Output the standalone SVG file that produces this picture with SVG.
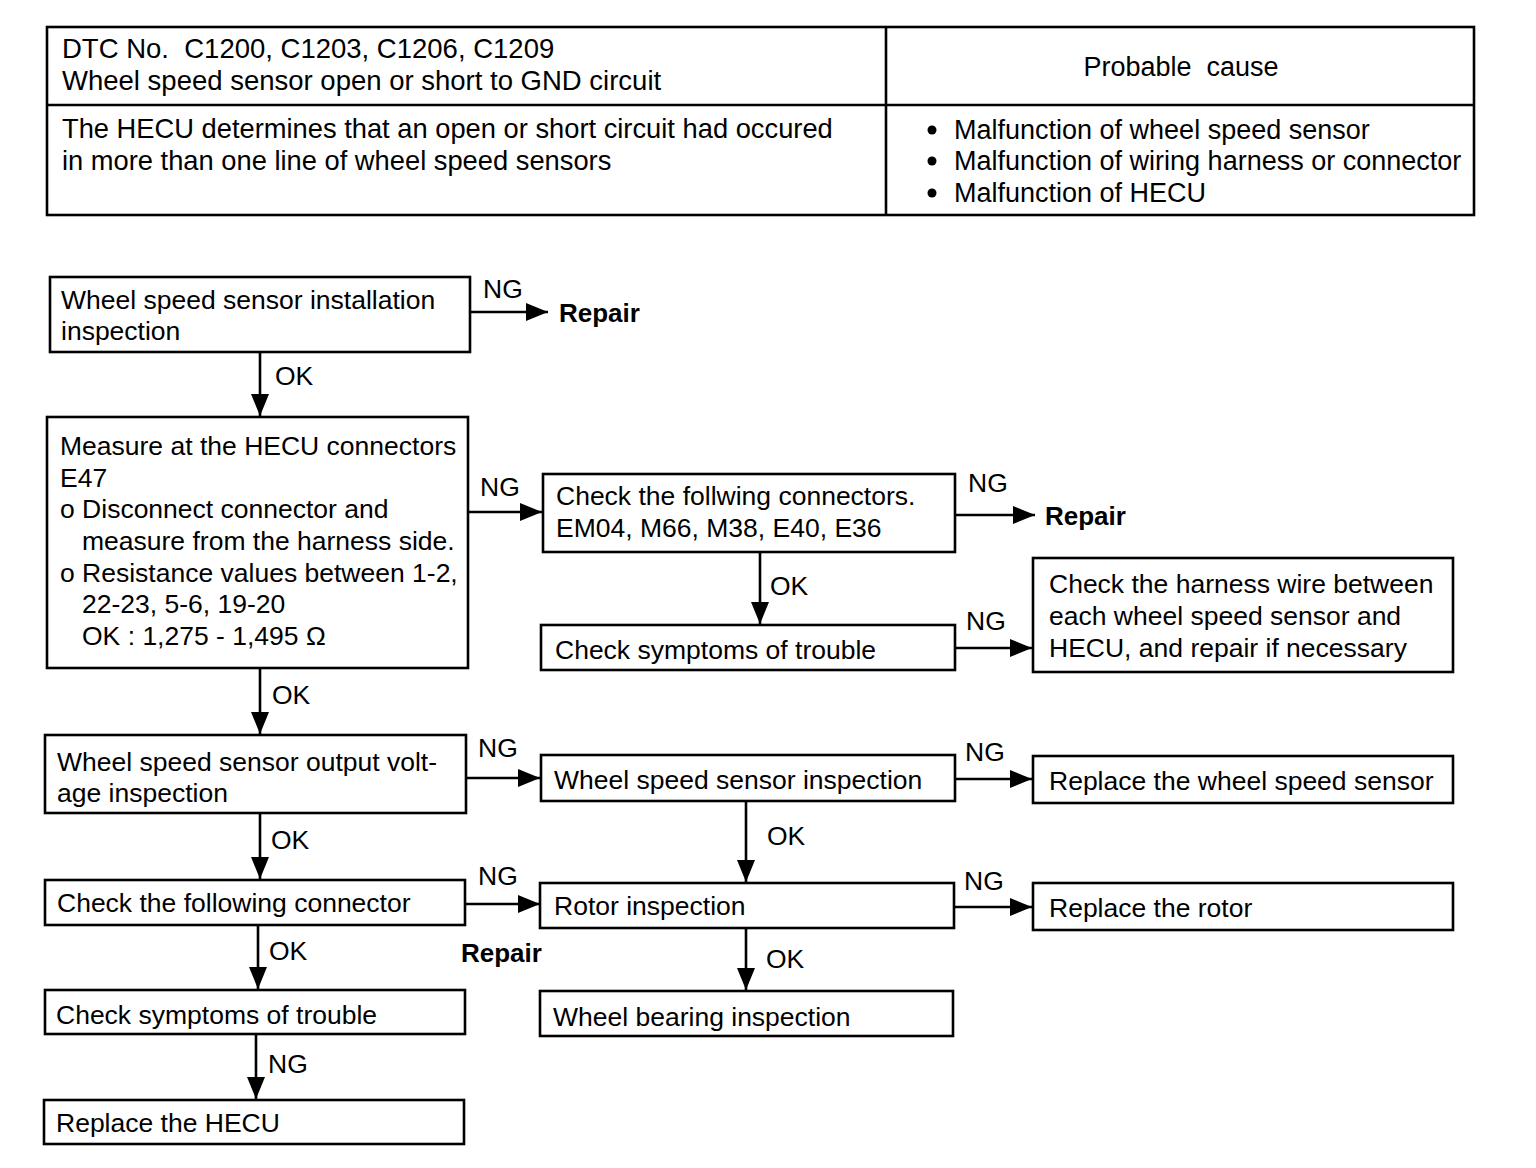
<svg xmlns="http://www.w3.org/2000/svg" width="1536" height="1168" viewBox="0 0 1536 1168">
<style>
.box{fill:#fff;stroke:#000;stroke-width:2.6}
.ln{fill:none;stroke:#000;stroke-width:2.6}
text{font-family:"Liberation Sans",Arial,Helvetica,sans-serif;font-size:26.5px;fill:#000}
.tb{font-size:27px}
.th{font-size:27.5px}
.tr{font-size:27.3px}
.b{font-weight:bold;font-size:26px}
</style>
<defs>
<marker id="ah" markerUnits="userSpaceOnUse" markerWidth="22" markerHeight="18" refX="22" refY="9" orient="auto">
<path d="M0,0 L22,9 L0,18 Z" fill="#000"/>
</marker>
</defs>
<rect width="1536" height="1168" fill="#fff"/>

<g id="table">
<rect class="box" x="47" y="27" width="1427" height="188"/>
<line class="ln" x1="886" y1="27" x2="886" y2="215"/>
<line class="ln" x1="47" y1="105" x2="1474" y2="105"/>
<text class="th" x="62" y="58">DTC No.&#160; C1200, C1203, C1206, C1209</text>
<text class="th" x="62" y="90">Wheel speed sensor open or short to GND circuit</text>
<text class="tb" x="1181" y="76" text-anchor="middle">Probable&#160; cause</text>
<text class="tr" x="62" y="138">The HECU determines that an open or short circuit had occured</text>
<text class="tr" x="62" y="170">in more than one line of wheel speed sensors</text>
<circle cx="932" cy="130" r="4.5"/>
<circle cx="932" cy="161" r="4.5"/>
<circle cx="932" cy="193" r="4.5"/>
<text class="tb" x="954" y="139">Malfunction of wheel speed sensor</text>
<text class="tb" x="954" y="170">Malfunction of wiring harness or connector</text>
<text class="tb" x="954" y="202">Malfunction of HECU</text>
</g>

<g id="n1">
<rect class="box" x="50" y="277" width="420" height="75"/>
<text x="61" y="309">Wheel speed sensor installation</text>
<text x="61" y="340">inspection</text>
</g>
<g id="repair1"><text class="b" x="559" y="322">Repair</text></g>

<g id="n2">
<rect class="box" x="47" y="417" width="421" height="251"/>
<text x="60" y="455">Measure at the HECU connectors</text>
<text x="60" y="487">E47</text>
<text x="60" y="518">o Disconnect connector and</text>
<text x="82" y="550">measure from the harness side.</text>
<text x="60" y="582">o Resistance values between 1-2,</text>
<text x="82" y="613">22-23, 5-6, 19-20</text>
<text x="82" y="645">OK : 1,275 - 1,495 Ω</text>
</g>

<g id="n3">
<rect class="box" x="543" y="474" width="412" height="78"/>
<text x="556" y="505">Check the follwing connectors.</text>
<text x="556" y="537">EM04, M66, M38, E40, E36</text>
</g>
<g id="repair2"><text class="b" x="1045" y="525">Repair</text></g>

<g id="n4">
<rect class="box" x="541" y="625" width="414" height="45"/>
<text x="555" y="659">Check symptoms of trouble</text>
</g>

<g id="n5">
<rect class="box" x="1033" y="558" width="420" height="114"/>
<text x="1049" y="593">Check the harness wire between</text>
<text x="1049" y="625">each wheel speed sensor and</text>
<text x="1049" y="657">HECU, and repair if necessary</text>
</g>

<g id="n6">
<rect class="box" x="45" y="735" width="421" height="78"/>
<text x="57" y="771">Wheel speed sensor output volt-</text>
<text x="57" y="802">age inspection</text>
</g>

<g id="n7">
<rect class="box" x="541" y="755" width="414" height="46"/>
<text x="554" y="789">Wheel speed sensor inspection</text>
</g>

<g id="n8">
<rect class="box" x="1033" y="756" width="420" height="47"/>
<text x="1049" y="790">Replace the wheel speed sensor</text>
</g>

<g id="n9">
<rect class="box" x="45" y="880" width="420" height="45"/>
<text x="57" y="912">Check the following connector</text>
</g>
<g id="repair3"><text class="b" x="461" y="962">Repair</text></g>

<g id="n10">
<rect class="box" x="540" y="883" width="414" height="45"/>
<text x="554" y="915">Rotor inspection</text>
</g>

<g id="n11">
<rect class="box" x="1033" y="883" width="420" height="47"/>
<text x="1049" y="917">Replace the rotor</text>
</g>

<g id="n12">
<rect class="box" x="540" y="991" width="413" height="45"/>
<text x="553" y="1026">Wheel bearing inspection</text>
</g>

<g id="n13">
<rect class="box" x="45" y="990" width="420" height="44"/>
<text x="56" y="1024">Check symptoms of trouble</text>
</g>

<g id="n14">
<rect class="box" x="44" y="1100" width="420" height="44"/>
<text x="56" y="1132">Replace the HECU</text>
</g>

<g id="connectors">
<line class="ln" x1="470" y1="312" x2="548" y2="312" marker-end="url(#ah)"/>
<text x="483" y="298">NG</text>
<line class="ln" x1="260" y1="352" x2="260" y2="416" marker-end="url(#ah)"/>
<text x="275" y="385">OK</text>
<line class="ln" x1="468" y1="512" x2="542" y2="512" marker-end="url(#ah)"/>
<text x="480" y="496">NG</text>
<line class="ln" x1="955" y1="515" x2="1035" y2="515" marker-end="url(#ah)"/>
<text x="968" y="492">NG</text>
<line class="ln" x1="760" y1="552" x2="760" y2="624" marker-end="url(#ah)"/>
<text x="770" y="595">OK</text>
<line class="ln" x1="955" y1="648" x2="1032" y2="648" marker-end="url(#ah)"/>
<text x="966" y="630">NG</text>
<line class="ln" x1="260" y1="668" x2="260" y2="734" marker-end="url(#ah)"/>
<text x="272" y="704">OK</text>
<line class="ln" x1="466" y1="778" x2="540" y2="778" marker-end="url(#ah)"/>
<text x="478" y="757">NG</text>
<line class="ln" x1="955" y1="779" x2="1032" y2="779" marker-end="url(#ah)"/>
<text x="965" y="761">NG</text>
<line class="ln" x1="260" y1="813" x2="260" y2="879" marker-end="url(#ah)"/>
<text x="271" y="849">OK</text>
<line class="ln" x1="465" y1="904" x2="540" y2="904" marker-end="url(#ah)"/>
<text x="478" y="885">NG</text>
<line class="ln" x1="746" y1="801" x2="746" y2="882" marker-end="url(#ah)"/>
<text x="767" y="845">OK</text>
<line class="ln" x1="954" y1="907" x2="1032" y2="907" marker-end="url(#ah)"/>
<text x="964" y="890">NG</text>
<line class="ln" x1="746" y1="928" x2="746" y2="990" marker-end="url(#ah)"/>
<text x="766" y="968">OK</text>
<line class="ln" x1="258" y1="925" x2="258" y2="989" marker-end="url(#ah)"/>
<text x="269" y="960">OK</text>
<line class="ln" x1="256" y1="1034" x2="256" y2="1099" marker-end="url(#ah)"/>
<text x="268" y="1073">NG</text>
</g>
</svg>
